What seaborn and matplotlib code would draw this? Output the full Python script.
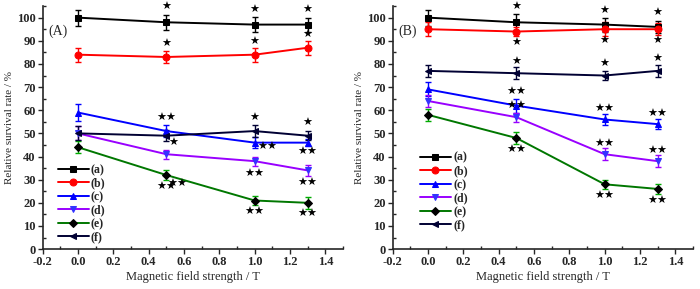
import numpy as np
import matplotlib
matplotlib.use("Agg")
import matplotlib.pyplot as plt
import seaborn as sns
from matplotlib.ticker import MultipleLocator

field = [0.0, 0.5, 1.0, 1.3]
labels = ['(a)', '(b)', '(c)', '(d)', '(e)', '(f)']

# panel A values and error bars
a_vals = {
    '(a)': [100, 98, 97, 97],
    '(b)': [84, 83, 84, 87],
    '(c)': [59, 51, 46, 46],
    '(d)': [50, 41, 38, 34],
    '(e)': [44, 32, 21, 20],
    '(f)': [50, 49, 51, 49],
}
a_errs = {
    '(a)': [3.5, 3.3, 3.3, 3.0],
    '(b)': [3.0, 2.5, 3.0, 3.0],
    '(c)': [3.5, 2.5, 2.5, 1.5],
    '(d)': [3.0, 2.0, 2.0, 2.5],
    '(e)': [2.5, 2.0, 2.0, 2.5],
    '(f)': [3.0, 2.5, 2.5, 2.0],
}
# panel B values and error bars
b_vals = {
    '(a)': [100, 98, 97, 96],
    '(b)': [95, 94, 95, 95],
    '(c)': [69, 62, 56, 54],
    '(d)': [64, 57, 41, 38],
    '(e)': [58, 48, 28, 26],
    '(f)': [77, 76, 75, 77],
}
b_errs = {
    '(a)': [3.5, 3.5, 3.0, 2.5],
    '(b)': [3.0, 2.0, 3.0, 2.5],
    '(c)': [3.0, 3.0, 2.5, 2.0],
    '(d)': [2.5, 2.0, 2.5, 2.5],
    '(e)': [2.5, 2.5, 2.0, 2.0],
    '(f)': [2.5, 2.5, 2.0, 2.5],
}

# significance marks: (series, point index, number of stars, dx, dy)
a_stars = [
    ('(a)', 1, 1, 0, 6.5), ('(a)', 2, 1, 0, 6.5), ('(a)', 3, 1, 0, 6.5),
    ('(b)', 1, 1, 0, 5.5), ('(b)', 2, 1, 0, 5.5), ('(b)', 3, 1, 0, 5.5),
    ('(c)', 1, 2, 0, 5.5), ('(c)', 2, 2, 0.07, -2), ('(c)', 3, 2, 0, -4),
    ('(f)', 1, 1, 0.04, -3), ('(f)', 2, 1, 0, 5.5), ('(f)', 3, 1, 0, 5.5),
    ('(d)', 2, 2, 0, -5.5), ('(d)', 3, 2, 0, -5.5),
    ('(e)', 1, 2, 0, -5), ('(e)', 1, 2, 0.06, -4),
    ('(e)', 2, 2, 0, -5), ('(e)', 3, 2, 0, -5),
]
b_stars = [
    ('(a)', 1, 1, 0, 6.5), ('(a)', 2, 1, 0, 6), ('(a)', 3, 1, 0, 6),
    ('(b)', 1, 1, 0, -5), ('(b)', 2, 1, 0, -5), ('(b)', 3, 1, 0, -5),
    ('(f)', 1, 1, 0, 5), ('(f)', 2, 1, 0, 5), ('(f)', 3, 1, 0, 5),
    ('(c)', 1, 2, 0, 6), ('(c)', 2, 2, 0, 4.5), ('(c)', 3, 2, 0, 4.5),
    ('(d)', 1, 2, 0, 5), ('(d)', 2, 2, 0, 4.5), ('(d)', 3, 2, 0, 4.5),
    ('(e)', 1, 2, 0, -5), ('(e)', 2, 2, 0, -5), ('(e)', 3, 2, 0, -5),
]

styles = {
    '(a)': dict(color='black', marker='s', mfc='black', ecol='black'),
    '(b)': dict(color='#ff0000', marker='o', mfc='#ff0000', ecol='#ff0000'),
    '(c)': dict(color='#0000ff', marker='^', mfc='#0000ff', ecol='#0000ff'),
    '(d)': dict(color='#9900ff', marker='v', mfc='#3333ff', ecol='#9900ff'),
    '(e)': dict(color='#007700', marker='D', mfc='black', ecol='#00aa00'),
    '(f)': dict(color='#000033', marker='<', mfc='#000033', ecol='#000033'),
}

sns.set_style('ticks')
plt.rcParams['font.family'] = ['Liberation Serif', 'DejaVu Serif']

fig = plt.figure(figsize=(7.0, 2.89), dpi=100)
ax_a = fig.add_axes([0.061, 0.138, 0.429, 0.841])
ax_b = fig.add_axes([0.561, 0.138, 0.429, 0.841])


def draw_panel(ax, vals, errs, stars, tag, legend_anchor):
    for lab in labels:
        st = styles[lab]
        ax.errorbar(field, vals[lab], yerr=errs[lab], fmt='none', ecolor=st['ecol'],
                    elinewidth=1.0, capsize=2.5, capthick=1.0, zorder=2)
        sns.lineplot(x=field, y=vals[lab], ax=ax, color=st['color'], marker=st['marker'],
                     markersize=5 if st['marker'] != 'D' else 4.2,
                     markerfacecolor=st['mfc'], markeredgecolor=st['mfc'],
                     linewidth=1.4, label=lab, zorder=3)
    for lab, i, n, dx, dy in stars:
        ax.text(field[i] + dx, vals[lab][i] + dy, '\u2605' * n, ha='center', va='center',
                fontsize=8, color='black', family='DejaVu Sans')
    ax.text(-0.17, 94, tag, fontsize=10, ha='left', va='center')

    ax.set_xlim(-0.2, 1.5)
    ax.set_ylim(0, 105)
    ax.xaxis.set_minor_locator(MultipleLocator(0.1))
    ax.yaxis.set_major_locator(MultipleLocator(10))
    ax.yaxis.set_minor_locator(MultipleLocator(5))
    ticks = np.arange(-0.2, 1.41, 0.2)
    ax.set_xticks(ticks)
    ax.set_xticklabels([f'{v:.1f}' for v in ticks])
    ax.tick_params(which='major', direction='out', length=3.5, width=1.0,
                   labelsize=9, pad=1.5)
    ax.tick_params(which='minor', direction='in', length=2.5, width=1.0)
    for t in ax.get_xticklabels() + ax.get_yticklabels():
        t.set_fontweight('bold')
    for side in ['top', 'right']:
        ax.spines[side].set_visible(False)
    for side in ['left', 'bottom']:
        ax.spines[side].set_linewidth(1.2)
    ax.set_xlabel('Magnetic field strength / T', fontsize=9, labelpad=2)
    ax.set_ylabel('Relative survival rate / %', fontsize=8, labelpad=2)

    leg = ax.legend(loc='upper left', bbox_to_anchor=legend_anchor, frameon=False,
                    fontsize=8.5, handlelength=2.6, handletextpad=0.2,
                    labelspacing=0.13, borderaxespad=0)
    for t in leg.get_texts():
        t.set_fontweight('bold')


draw_panel(ax_a, a_vals, a_errs, a_stars, '(A)', (0.035, 0.37))
draw_panel(ax_b, b_vals, b_errs, b_stars, '(B)', (0.075, 0.42))

fig.savefig('out.png', dpi=100)
